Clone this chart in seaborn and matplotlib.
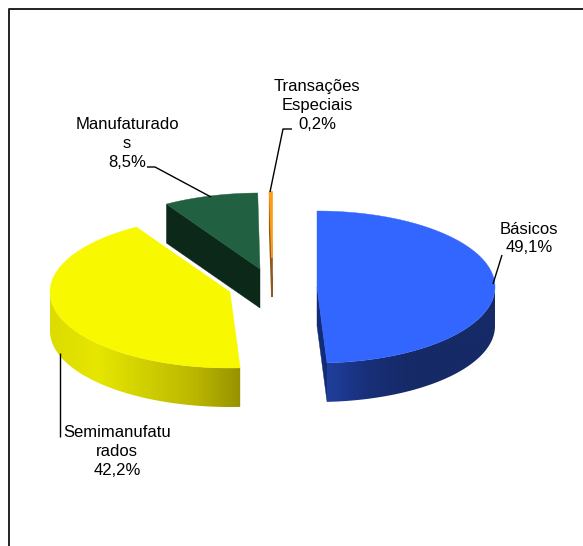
import numpy as np
import matplotlib
matplotlib.use("Agg")
import matplotlib.pyplot as plt
from matplotlib.colors import ListedColormap
from matplotlib.patches import Polygon
import seaborn as sns

# ---- data
categories = ["Básicos", "Semimanufaturados", "Manufaturados", "Transações Especiais"]
values = [49.1, 42.2, 8.5, 0.2]
labels = ["Básicos\n49,1%", "Semimanufatu\nrados\n42,2%", "Manufaturado\ns\n8,5%",
          "Transações\nEspeciais\n0,2%"]

# ---- styles / layout (pixel space)
W, H = 583, 546
top_colors = ["#3366FF", "#F8F800", "#216041", "#FF9C14"]
cut_colors = ["#132C78", None, "#0C2818", "#8C5A1E"]
wall_ramps = [["#1F3F9C", "#182F78", "#152A66", "#152A66", "#152A66"],
              ["#DCDC00", "#E6E600", "#D0D000", "#BCB800", "#969200"],
              None, None]
centers = [(317, 287), (230, 292), (260, 269), (272, 258)]
radii = [(178, 76), (180, 76), (180, 76), (180, 66)]
depths = [39, 39, 39, 39]
top_edge = [0.3, 0.3, 0.3, 1.2]
label_xy = [(529, 238.5), (117, 451.5), (127, 143.5), (317, 105.5)]
leaders = [[(502, 255), (493, 284)],
           [(60, 437), (60, 353)],
           [(147, 167), (155, 167), (211, 197)],
           [(292, 129), (283, 129), (270, 192)]]

sns.set_theme(style="white")
plt.rcParams["font.family"] = ["Liberation Sans", "DejaVu Sans"]

fig = plt.figure(figsize=(W / 100, H / 100), dpi=100)
ax = fig.add_axes([0, 0, 1, 1])
ax.axis("off")

fractions = np.array(values) / np.sum(values)
edges = np.concatenate([[0], np.cumsum(fractions)]) * 2 * np.pi


def pt(i, a):
    cx, cy = centers[i]
    rx, ry = radii[i]
    return cx + rx * np.sin(a), cy - ry * np.cos(a)


def draw_wall(i):
    a0, a1 = edges[i], edges[i + 1]
    lo, hi = max(a0, np.pi / 2), min(a1, 3 * np.pi / 2)
    if hi <= lo or wall_ramps[i] is None:
        return
    aa = np.linspace(lo, hi, 200)
    xs, ys = pt(i, aa)
    d = depths[i]
    outline = np.c_[np.r_[xs, xs[::-1]], np.r_[ys, ys[::-1] + d]]
    patch = Polygon(outline, closed=True, transform=ax.transData, fc="none", ec="none")
    ax.add_patch(patch)
    cmap = ListedColormap(sns.blend_palette(wall_ramps[i], 256))
    im = ax.imshow(np.linspace(0, 1, 256)[None, :], cmap=cmap, aspect="auto",
                   extent=(xs.min(), xs.max(), ys.max() + d, ys.min()),
                   interpolation="bilinear", zorder=2 + i)
    im.set_clip_path(patch)


def draw_cut(i, a):
    if cut_colors[i] is None:
        return
    cx, cy = centers[i]
    x, y = pt(i, a)
    d = depths[i]
    ax.fill([x, cx, cx, x], [y, cy, cy + d, y + d], color=cut_colors[i],
            lw=top_edge[i], zorder=2.5 + i)


def draw_top(i):
    cx, cy = centers[i]
    aa = np.linspace(edges[i], edges[i + 1], 160)
    xs, ys = pt(i, aa)
    ax.fill(np.r_[cx, xs], np.r_[cy, ys], color=top_colors[i], lw=top_edge[i], zorder=2.8 + i)


for i in [1, 2, 3, 0]:
    draw_wall(i)
    draw_cut(i, edges[i + 1] if i == 0 else edges[i])
    draw_top(i)

for seg in leaders:
    ax.plot(*zip(*seg), color="black", lw=1.0, zorder=10, solid_capstyle="butt")

for (x, y), s in zip(label_xy, labels):
    ax.text(x, y, s, ha="center", va="center", fontsize=12, color="black",
            linespacing=1.3, zorder=11)

# chart frame, cut by the picture's right and bottom edges
ax.plot([8.5, 8.5, W], [H, 8.8, 8.8], color="#222222", lw=1.4, zorder=1)

ax.set_xlim(0, W)
ax.set_ylim(H, 0)
fig.savefig("out.png", dpi=100, facecolor="white")
